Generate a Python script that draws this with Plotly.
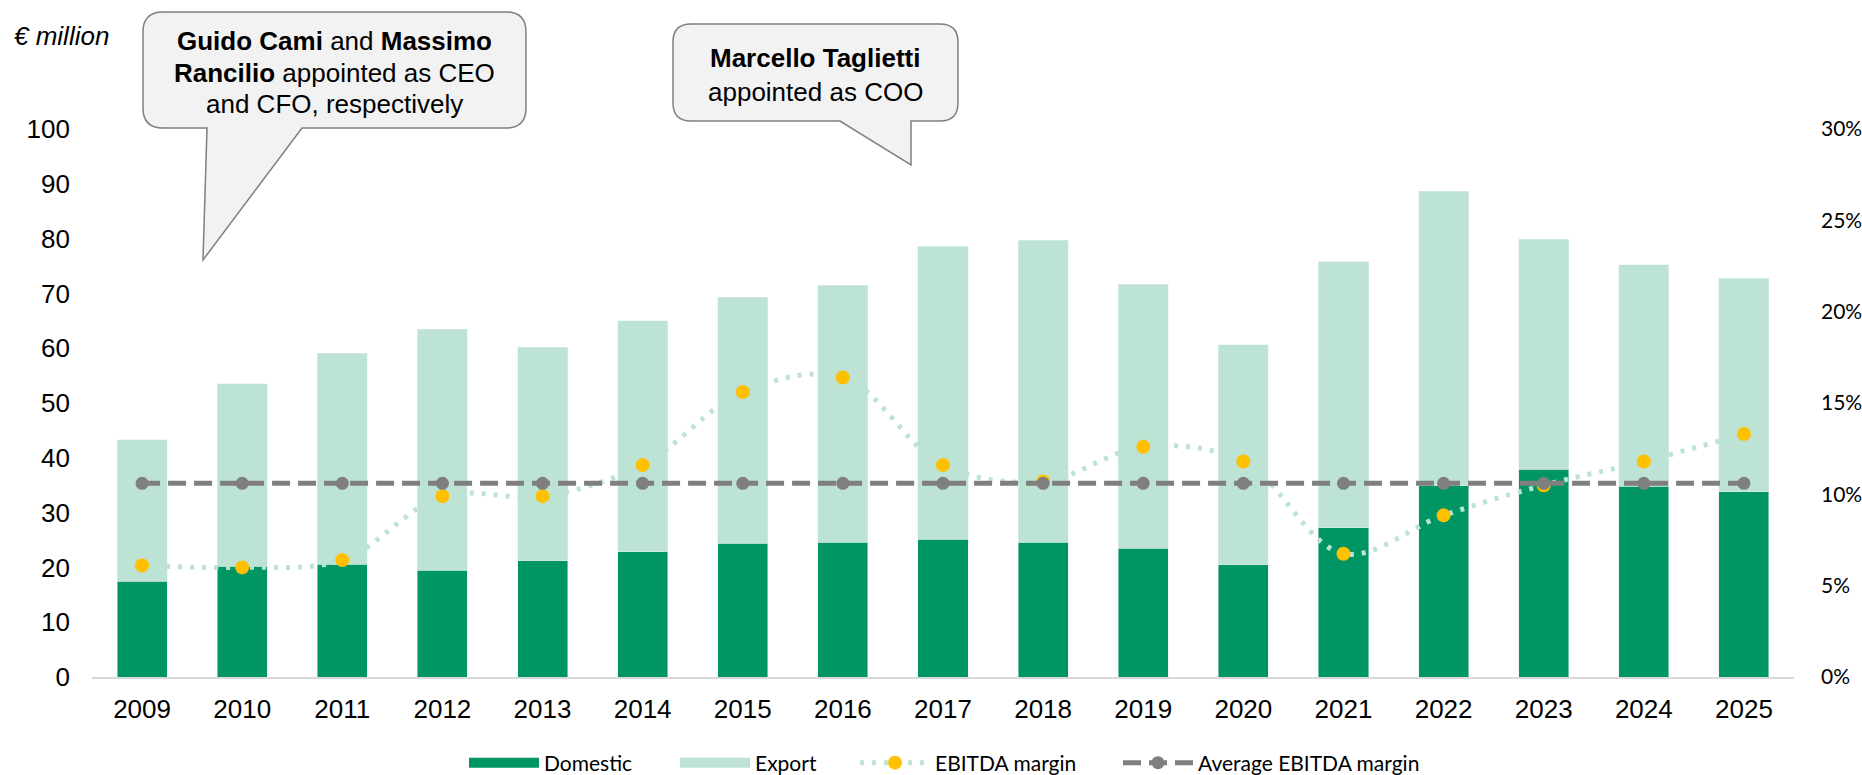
import plotly.graph_objects as go

years = [str(y) for y in range(2009, 2026)]
domestic = [17.5, 20.2, 20.6, 19.5, 21.2, 22.9, 24.4, 24.6, 25.1, 24.6, 23.5, 20.5, 27.2, 34.9, 37.9, 34.8, 33.8]
total = [43.3, 53.5, 59.1, 63.5, 60.2, 65.0, 69.3, 71.5, 78.6, 79.7, 71.7, 60.6, 75.8, 88.6, 79.9, 75.2, 72.8]
export = [round(t - d, 1) for t, d in zip(total, domestic)]
ebitda_margin = [0.061, 0.060, 0.064, 0.099, 0.099, 0.116, 0.156, 0.164, 0.116, 0.107, 0.126, 0.118, 0.0675, 0.0885, 0.105, 0.118, 0.133]
avg_margin = [0.106] * len(years)

W, H = 1862, 775
L, R, T, B = 92, 68, 129, 98
PW, PH = W - L - R, H - T - B

def pp(x, y):
    return (x - L) / PW, (T + PH - y) / PH

def callout_path(x0, y0, x1, y1, r, tail):
    def P(x, y):
        a, b = pp(x, y)
        return f"{a:.5f},{b:.5f}"
    s = f"M {P(x0 + r, y0)} L {P(x1 - r, y0)} Q {P(x1, y0)} {P(x1, y0 + r)} "
    s += f"L {P(x1, y1 - r)} Q {P(x1, y1)} {P(x1 - r, y1)} "
    for (x, y) in tail:
        s += f"L {P(x, y)} "
    s += f"L {P(x0 + r, y1)} Q {P(x0, y1)} {P(x0, y1 - r)} "
    s += f"L {P(x0, y0 + r)} Q {P(x0, y0)} {P(x0 + r, y0)} Z"
    return s

GREEN = "#009664"
MINT = "#BDE3D4"
YELLOW = "#FFC000"
GREY = "#7F7F7F"
FONT = "Liberation Sans"
LFONT = "Lato"
DOT = "4px,8px"
DASH = "18px,8px"

fig = go.Figure()
fig.add_trace(go.Bar(x=years, y=domestic, name="Domestic", marker_color=GREEN, width=0.5,
                     legendgroup="dom", showlegend=False))
fig.add_trace(go.Bar(x=years, y=export, name="Export", marker_color=MINT, width=0.5,
                     legendgroup="exp", showlegend=False))
fig.add_trace(go.Scatter(x=years, y=ebitda_margin, name="EBITDA margin", yaxis="y2",
                         mode="lines+markers", line=dict(color=MINT, width=5, dash=DOT, shape="spline"),
                         marker=dict(color=YELLOW, size=14, symbol="circle"), showlegend=False,
                         legendgroup="ebitda"))
fig.add_trace(go.Scatter(x=years, y=avg_margin, name="Average EBITDA margin", yaxis="y2",
                         mode="lines+markers", line=dict(color=GREY, width=5, dash=DASH),
                         marker=dict(color=GREY, size=13, symbol="circle"), showlegend=False,
                         legendgroup="avg"))

# legend entries (wide swatches like the original), one legend box per entry
fig.add_trace(go.Scatter(x=[None], y=[None], mode="lines", name="Domestic", legendgroup="dom",
                         line=dict(color=GREEN, width=13), legend="legend"))
fig.add_trace(go.Scatter(x=[None], y=[None], mode="lines", name="Export", legendgroup="exp",
                         line=dict(color=MINT, width=13), legend="legend2"))
fig.add_trace(go.Scatter(x=[None], y=[None], mode="lines+markers", name="EBITDA margin", legendgroup="ebitda",
                         yaxis="y2", line=dict(color=MINT, width=5, dash=DOT),
                         marker=dict(color=YELLOW, size=14), legend="legend3"))
fig.add_trace(go.Scatter(x=[None], y=[None], mode="lines+markers", name="Average EBITDA margin", legendgroup="avg",
                         yaxis="y2", line=dict(color=GREY, width=5, dash=DASH),
                         marker=dict(color=GREY, size=13), legend="legend4"))

shapes = [
    dict(type="path", xref="paper", yref="paper",
         path=callout_path(143, 12, 526, 128, 20, [(302, 128), (203, 260), (207, 128)]),
         fillcolor="#F2F2F2", line=dict(color=GREY, width=1.5), layer="above"),
    dict(type="path", xref="paper", yref="paper",
         path=callout_path(673, 24, 958, 121, 18, [(911, 121), (911, 165), (840, 121)]),
         fillcolor="#F2F2F2", line=dict(color=GREY, width=1.5), layer="above"),
]

ann = []
def line_ann(x, y, text, anchor="center"):
    cx, cy = pp(x, y)
    ann.append(dict(xref="paper", yref="paper", x=cx, y=cy, xanchor=anchor, yanchor="middle",
                    showarrow=False, text=text, font=dict(family=FONT, size=26, color="#000000")))

line_ann(334, 41, "<b>Guido Cami</b> and <b>Massimo</b>")
line_ann(334, 73, "<b>Rancilio</b> appointed as CEO")
line_ann(334, 104, "and CFO, respectively")
line_ann(815, 58, "<b>Marcello Taglietti</b>")
line_ann(815, 92, "appointed as COO")
line_ann(12, 36, "<i>€ million</i>", anchor="left")

def leg(xpx):
    x, y = pp(xpx - 5, 763)
    return dict(orientation="h", x=x, y=y, xanchor="left", yanchor="middle",
                font=dict(family=LFONT, size=21, color="#000000"), itemwidth=70,
                bgcolor="rgba(0,0,0,0)")

fig.update_layout(
    width=W, height=H,
    margin=dict(l=L, r=R, t=T, b=B, autoexpand=False),
    plot_bgcolor="white", paper_bgcolor="white",
    barmode="stack",
    font=dict(family=FONT, size=26, color="#000000"),
    xaxis=dict(type="category", range=[-0.5, 16.5], showgrid=False, showline=True,
               linecolor="#D9D9D9", linewidth=2, ticks="", ticklabelstandoff=8,
               tickfont=dict(size=26)),
    yaxis=dict(range=[0, 100], dtick=10, showgrid=False, zeroline=False, showline=False,
               ticks="", ticklabelstandoff=21, tickfont=dict(size=26)),
    yaxis2=dict(range=[0, 0.30], dtick=0.05, tickformat=".0%", overlaying="y", side="right",
                showgrid=False, zeroline=False, showline=False, ticks="", ticklabelstandoff=26,
                tickfont=dict(family=LFONT, size=21)),
    legend=leg(469), legend2=leg(680), legend3=leg(860), legend4=leg(1123),
    shapes=shapes, annotations=ann,
    showlegend=True,
)
fig.write_html("out.html", config={"displayModeBar": False},
               post_script="document.body.style.margin='0px';")
